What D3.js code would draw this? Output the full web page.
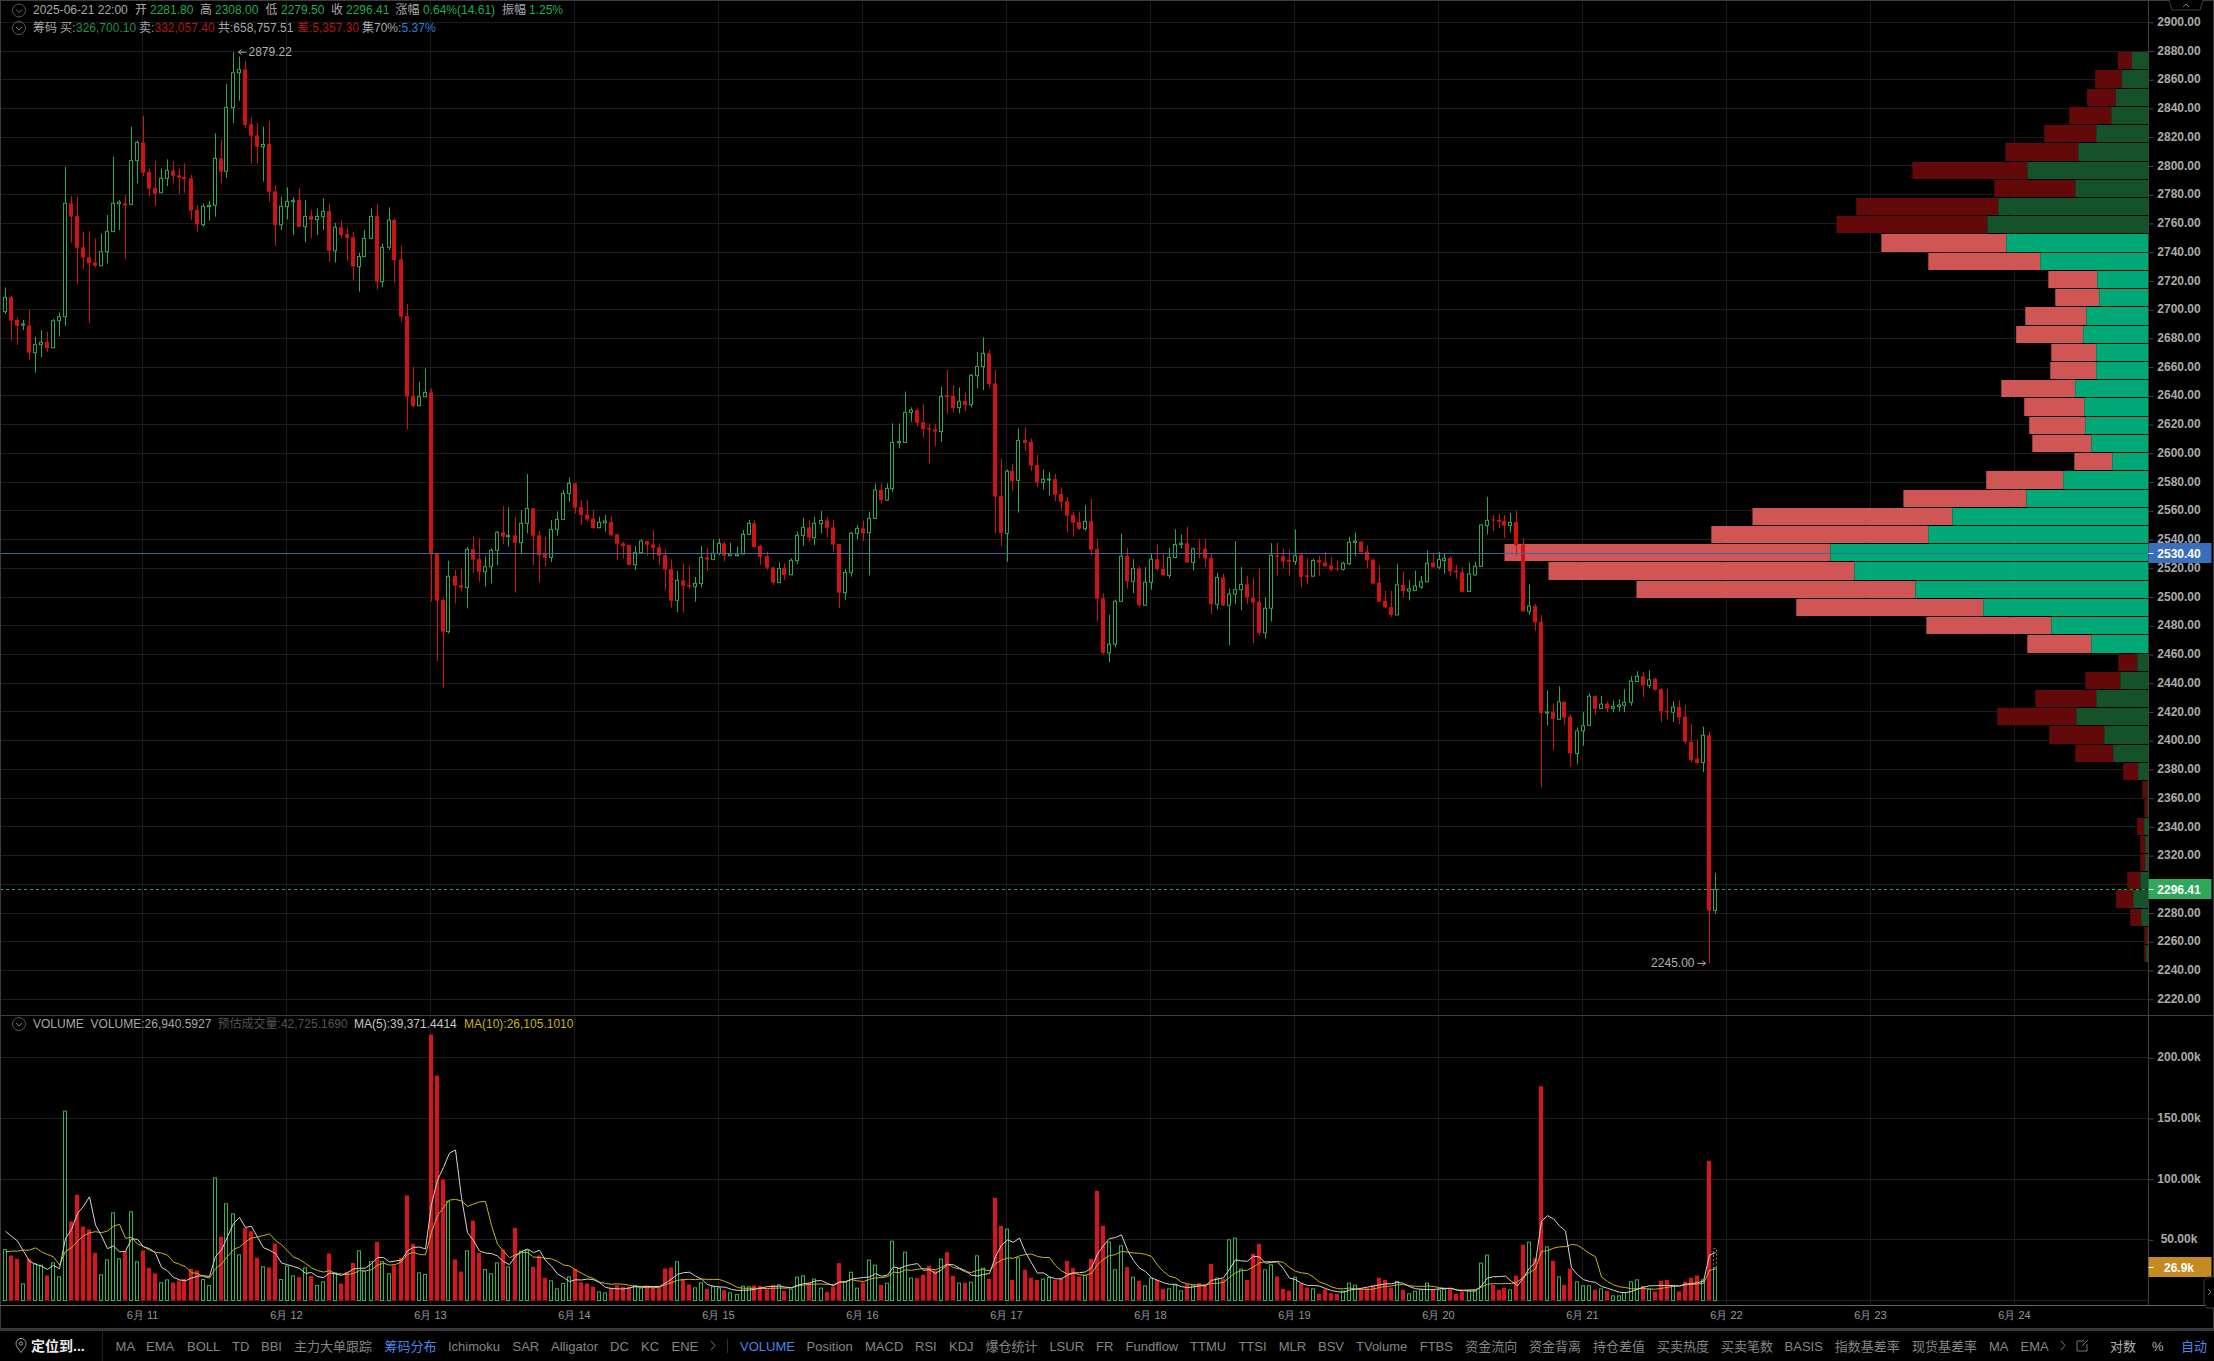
<!DOCTYPE html>
<html>
  <head>
  <meta charset="utf-8">
  <title>K线 筹码分布</title>
  </head>
  <body>
  <style>
    body, html {
      margin: 0;
      background: #000;
      overflow: hidden;
    }
    svg {
      display: block;
      font-family: "Liberation Sans", "Noto Sans CJK SC", sans-serif;
    }
  </style>

  <svg id="svg" width="2214" height="1361"></svg>

  <script src="https://cdn.jsdelivr.net/npm/d3@7"></script>
  <script>
    // hourly candles, 2025-06-10 01:00 to 2025-06-21 22:00
    const opens = [
      2698.6,2708.6,2692.8,2689.3,2689.0,2670.0,2675.6,2677.5,2673.5,2692.3,
      2695.1,2774.0,2765.2,2743.4,2736.4,2732.9,2730.6,2740.3,2754.3,2773.7,
      2774.0,2773.3,2803.7,2816.4,2795.8,2784.7,2781.4,2791.4,2796.9,2793.5,
      2792.3,2791.4,2769.3,2759.1,2771.7,2772.6,2805.3,2796.3,2840.6,2864.9,
      2867.2,2829.0,2821.3,2813.4,2815.3,2782.3,2759.1,2771.7,2775.1,2776.3,
      2757.7,2765.2,2762.6,2764.7,2768.6,2741.0,2757.3,2752.6,2750.3,2729.9,
      2736.9,2749.6,2765.2,2719.5,2743.4,2762.4,2735.0,2695.6,2639.9,2633.2,
      2639.4,2642.4,2529.9,2497.9,2475.9,2514.6,2508.1,2506.7,2533.2,2526.4,
      2517.6,2521.1,2532.5,2545.0,2542.0,2542.9,2537.8,2551.3,2561.7,2542.9,
      2529.9,2527.6,2547.1,2554.0,2572.1,2579.1,2562.4,2557.5,2554.7,2548.2,
      2551.7,2552.2,2543.6,2537.3,2536.2,2522.5,2530.8,2539.0,2536.6,2534.6,
      2529.2,2519.5,2497.7,2511.6,2508.3,2507.2,2509.3,2527.6,2526.0,2530.4,
      2537.3,2528.8,2528.8,2529.9,2543.6,2551.3,2535.5,2528.5,2520.6,2510.0,
      2520.2,2515.5,2525.3,2542.9,2548.5,2541.3,2551.0,2553.3,2548.5,2536.9,
      2503.0,2517.2,2544.3,2547.8,2544.8,2554.7,2574.5,2567.5,2575.4,2607.4,
      2607.6,2628.5,2630.1,2621.6,2617.6,2616.7,2615.1,2640.6,2639.9,2631.8,
      2636.4,2633.9,2654.0,2660.3,2669.6,2648.7,2570.3,2544.3,2587.7,2581.2,
      2609.3,2607.9,2591.9,2579.8,2581.7,2582.1,2571.7,2566.6,2557.1,2552.2,
      2547.5,2552.7,2533.4,2499.1,2461.1,2467.1,2497.0,2528.4,2510.9,2519.9,
      2494.3,2510.3,2526.3,2519.6,2515.1,2527.5,2536.5,2537.4,2524.1,2533.8,
      2533.5,2527.2,2494.9,2513.6,2494.3,2502.1,2505.1,2508.8,2499.7,2496.7,
      2475.0,2492.2,2529.0,2528.4,2525.7,2524.8,2529.3,2515.1,2514.5,2525.7,
      2524.1,2522.0,2519.9,2519.3,2523.2,2538.0,2538.6,2531.7,2526.0,2510.0,
      2497.3,2493.1,2487.6,2508.5,2504.2,2504.5,2507.0,2510.6,2523.9,2520.8,
      2525.4,2527.2,2518.4,2517.2,2503.9,2515.4,2521.4,2549.8,2554.0,2553.7,
      2553.1,2549.8,2552.2,2536.5,2490.0,2493.7,2482.8,2419.2,2419.8,2414.9,
      2427.0,2416.7,2391.1,2406.8,2410.7,2431.0,2422.5,2425.8,2422.5,2423.7,
      2424.6,2426.7,2441.2,2444.8,2438.5,2443.0,2435.8,2420.7,2419.8,2423.4,
      2416.7,2399.2,2387.5,2384.8,2403.8,2281.8
    ]
    const highs = [
      2715.5,2709.5,2694.6,2692.8,2699.7,2681.2,2685.8,2684.7,2693.5,2698.1,
      2799.5,2779.1,2778.6,2754.3,2754.7,2749.6,2753.1,2765.9,2806.5,2776.3,
      2779.8,2827.3,2817.6,2835.0,2798.3,2803.4,2798.3,2804.6,2803.0,2798.3,
      2801.8,2793.7,2772.8,2774.0,2775.8,2822.7,2818.5,2857.0,2879.22,2876.1,
      2873.0,2833.8,2830.1,2827.3,2831.5,2786.7,2778.6,2785.1,2778.2,2784.9,
      2776.3,2769.3,2770.5,2777.5,2774.0,2760.5,2762.4,2757.7,2754.3,2739.6,
      2755.4,2770.5,2773.5,2746.1,2771.2,2763.5,2744.3,2703.9,2660.3,2649.9,
      2659.1,2645.2,2530.4,2499.0,2525.3,2518.8,2519.9,2535.0,2542.4,2540.8,
      2528.1,2533.9,2545.9,2563.3,2562.4,2555.4,2560.5,2585.6,2561.7,2545.9,
      2542.0,2553.6,2559.6,2574.5,2583.3,2579.1,2567.5,2567.5,2560.5,2555.9,
      2557.1,2556.6,2543.8,2538.5,2536.2,2535.5,2540.1,2539.2,2546.6,2537.3,
      2533.2,2526.2,2518.3,2523.4,2521.8,2514.1,2535.5,2533.9,2540.1,2540.8,
      2538.5,2537.8,2535.0,2546.6,2553.6,2553.6,2536.4,2531.5,2521.1,2524.1,
      2523.4,2526.9,2545.5,2555.2,2553.6,2555.9,2559.8,2555.4,2553.6,2536.9,
      2519.5,2545.5,2550.1,2553.1,2559.4,2579.1,2579.1,2579.1,2620.9,2620.9,
      2643.0,2632.0,2631.3,2634.3,2620.9,2620.4,2646.4,2658.0,2647.5,2645.9,
      2642.4,2655.2,2670.7,2680.7,2671.9,2658.0,2596.5,2588.8,2592.6,2617.4,
      2618.5,2610.4,2598.8,2588.8,2587.2,2585.6,2576.3,2569.4,2559.4,2559.4,
      2564.0,2568.2,2540.8,2502.7,2487.6,2498.2,2544.1,2534.4,2526.3,2521.4,
      2520.8,2529.9,2536.5,2529.9,2534.4,2547.1,2543.5,2548.9,2534.4,2540.4,
      2540.4,2529.9,2516.9,2516.3,2505.8,2538.9,2520.8,2514.8,2513.3,2519.9,
      2499.7,2537.4,2538.0,2533.8,2532.9,2547.1,2529.9,2526.9,2526.9,2528.4,
      2531.4,2527.8,2525.4,2524.5,2541.9,2545.0,2538.9,2535.9,2526.9,2522.3,
      2504.2,2504.2,2523.2,2517.8,2511.8,2518.4,2514.8,2532.3,2530.8,2531.4,
      2530.5,2528.4,2522.3,2520.8,2523.9,2524.5,2551.0,2569.7,2557.0,2557.9,
      2557.0,2558.5,2560.1,2541.0,2508.8,2495.2,2487.6,2434.8,2425.8,2437.9,
      2427.3,2418.3,2409.2,2419.8,2432.8,2431.8,2431.0,2427.3,2427.9,2428.8,
      2435.8,2444.8,2448.4,2447.8,2449.0,2443.9,2436.4,2435.8,2427.3,2428.2,
      2424.9,2411.6,2400.8,2409.8,2406.2,2308.0
    ]
    const lows = [
      2696.9,2678.4,2675.4,2685.8,2665.0,2656.1,2666.8,2670.5,2673.1,2681.2,
      2688.6,2746.6,2717.8,2728.0,2690.5,2729.4,2730.6,2732.2,2754.3,2755.4,
      2735.5,2772.8,2787.9,2793.0,2778.6,2772.1,2781.0,2786.0,2787.9,2780.5,
      2781.4,2762.4,2754.3,2757.7,2761.9,2764.7,2787.9,2791.8,2829.7,2845.4,
      2826.2,2801.8,2801.8,2789.1,2775.1,2744.3,2755.4,2762.8,2751.9,2757.7,
      2746.8,2749.6,2751.9,2755.4,2733.4,2732.7,2749.6,2734.1,2720.6,2712.5,
      2736.9,2748.9,2714.1,2715.5,2741.5,2718.8,2691.6,2616.7,2632.0,2632.9,
      2639.0,2496.7,2455.4,2437.1,2474.7,2495.6,2503.7,2492.1,2516.5,2510.7,
      2507.2,2509.5,2522.3,2536.9,2535.0,2503.0,2530.4,2544.3,2522.3,2510.2,
      2521.1,2524.3,2542.7,2553.6,2566.3,2558.2,2550.1,2552.4,2547.1,2547.8,
      2545.5,2542.4,2525.7,2526.9,2522.3,2518.8,2530.4,2528.8,2526.2,2522.3,
      2504.9,2492.6,2489.5,2489.1,2505.6,2496.7,2506.5,2518.1,2525.7,2529.2,
      2524.8,2528.5,2528.1,2529.9,2543.1,2533.9,2522.3,2518.8,2508.3,2509.7,
      2511.8,2515.3,2523.0,2535.7,2538.5,2536.2,2544.3,2541.5,2531.5,2492.3,
      2497.9,2514.1,2540.1,2539.0,2515.1,2554.3,2564.7,2566.8,2573.3,2603.5,
      2607.4,2622.0,2618.5,2610.9,2593.0,2605.1,2608.1,2627.4,2628.3,2627.8,
      2629.4,2632.0,2645.2,2644.0,2645.2,2544.3,2535.5,2524.6,2574.0,2558.7,
      2601.6,2587.7,2576.3,2574.9,2570.5,2566.8,2560.5,2544.8,2542.0,2546.6,
      2546.2,2528.8,2482.8,2459.9,2454.5,2465.0,2496.7,2505.8,2502.7,2493.1,
      2494.3,2505.1,2518.4,2514.8,2513.0,2526.9,2533.8,2523.9,2518.4,2526.9,
      2520.8,2488.2,2491.3,2493.7,2466.5,2495.2,2490.7,2495.2,2468.0,2473.2,
      2471.0,2483.1,2514.8,2520.2,2514.8,2522.3,2506.7,2508.8,2514.2,2514.8,
      2520.8,2517.8,2517.8,2518.4,2522.3,2528.4,2529.9,2520.2,2508.8,2496.7,
      2492.2,2486.1,2487.6,2499.7,2497.6,2504.2,2505.7,2510.3,2520.2,2519.3,
      2516.3,2514.8,2512.7,2503.6,2503.3,2514.8,2520.8,2543.5,2545.9,2548.0,
      2541.0,2545.0,2529.0,2490.0,2487.6,2476.5,2367.6,2410.7,2393.5,2414.6,
      2410.7,2382.0,2383.6,2396.5,2410.7,2418.3,2422.2,2419.8,2419.8,2420.4,
      2419.8,2424.3,2440.9,2430.3,2436.4,2434.8,2413.1,2414.6,2413.1,2411.6,
      2397.7,2385.1,2383.6,2378.1,2245.0,2279.5
    ]
    const closes = [
      2708.6,2692.3,2688.8,2690.0,2670.0,2675.6,2677.2,2673.3,2692.3,2695.1,
      2774.0,2764.7,2743.1,2736.2,2732.2,2730.6,2740.3,2754.3,2774.0,2774.9,
      2772.4,2803.7,2816.4,2795.3,2784.2,2780.7,2791.4,2796.9,2793.2,2791.8,
      2790.9,2768.9,2759.4,2771.9,2772.6,2805.3,2796.0,2840.8,2864.9,2867.2,
      2828.5,2821.1,2813.4,2815.0,2782.1,2758.9,2771.9,2775.4,2776.1,2757.7,
      2764.9,2762.4,2764.9,2768.4,2741.0,2757.3,2751.9,2749.9,2729.9,2736.9,
      2749.6,2764.9,2719.5,2743.4,2762.4,2734.5,2695.1,2639.4,2632.9,2639.4,
      2642.4,2529.7,2497.4,2475.9,2514.4,2507.9,2506.5,2533.2,2526.0,2517.6,
      2521.1,2532.5,2545.0,2542.0,2542.9,2537.8,2551.3,2561.7,2542.7,2529.2,
      2527.4,2547.1,2554.0,2572.1,2579.1,2562.2,2557.1,2554.0,2548.0,2552.0,
      2552.9,2543.1,2537.1,2535.5,2522.3,2531.1,2539.0,2536.4,2534.3,2528.8,
      2519.0,2497.4,2511.6,2507.9,2507.2,2509.5,2527.6,2526.0,2530.4,2537.3,
      2528.8,2529.9,2529.9,2543.6,2551.3,2534.8,2528.1,2520.4,2510.0,2519.9,
      2515.3,2525.5,2542.9,2548.5,2541.3,2551.3,2553.3,2548.2,2536.4,2503.0,
      2517.2,2544.3,2547.8,2544.5,2554.7,2574.5,2567.5,2575.6,2607.6,2608.3,
      2628.5,2630.1,2621.3,2616.9,2616.4,2615.1,2639.6,2639.2,2631.5,2636.2,
      2633.6,2654.3,2660.5,2669.6,2648.2,2569.8,2544.3,2587.5,2580.7,2609.0,
      2607.2,2591.4,2579.6,2581.9,2582.1,2571.2,2566.3,2556.6,2551.7,2547.5,
      2552.7,2532.9,2498.8,2461.1,2467.1,2497.0,2528.4,2510.9,2519.9,2494.3,
      2510.3,2526.3,2519.3,2515.1,2527.5,2536.5,2537.4,2524.1,2533.5,2533.2,
      2526.9,2494.9,2513.6,2494.3,2502.1,2505.1,2508.8,2499.7,2496.1,2475.0,
      2492.2,2529.0,2528.1,2524.8,2524.5,2528.7,2513.9,2513.9,2525.4,2523.9,
      2521.4,2519.0,2519.3,2523.5,2538.0,2538.9,2531.4,2525.4,2509.4,2496.7,
      2492.8,2487.6,2508.5,2504.2,2505.7,2507.6,2510.6,2523.5,2520.8,2526.0,
      2526.9,2517.8,2517.2,2503.6,2516.0,2521.4,2550.1,2553.4,2553.4,2552.5,
      2549.8,2551.9,2535.9,2490.0,2493.7,2482.5,2419.2,2420.0,2415.2,2427.0,
      2416.1,2391.1,2406.8,2410.4,2431.0,2422.2,2425.5,2422.2,2423.7,2424.9,
      2426.7,2441.5,2444.8,2438.5,2442.4,2435.5,2420.4,2419.8,2423.4,2416.1,
      2399.2,2386.6,2384.5,2403.8,2281.6,2296.41
    ]

    // volume per candle, in thousands
    const volumes = [
      42.0,37.1,34.3,13.7,34.3,30.2,29.1,20.6,31.0,19.5,
      156.0,65.1,87.1,61.0,58.5,39.3,21.2,33.5,72.2,34.3,
      40.7,73.1,31.9,41.2,26.9,22.3,14.6,17.0,14.8,16.5,
      17.9,26.1,24.7,17.3,12.4,101.1,52.5,79.7,71.4,37.6,
      59.9,57.1,35.2,27.7,27.2,47.0,17.3,28.3,20.3,19.2,
      26.9,20.1,12.4,15.4,38.7,22.8,14.0,23.6,31.0,40.9,
      24.2,31.9,48.3,32.1,22.0,28.8,35.2,86.5,46.7,22.8,
      21.4,219.2,185.4,99.7,81.9,33.8,23.9,40.9,65.9,39.3,
      25.5,22.0,31.0,42.0,27.7,59.9,40.7,41.5,27.7,37.1,
      18.7,16.2,9.6,14.0,19.5,26.1,15.1,14.0,11.5,7.1,
      6.3,10.4,12.6,11.3,11.3,12.4,10.2,12.4,11.3,11.3,
      26.4,27.2,31.9,17.9,13.2,10.4,14.6,9.6,11.3,10.4,
      8.5,6.3,4.9,11.8,11.3,12.4,12.1,9.3,12.9,12.9,
      8.0,9.3,19.2,20.3,14.8,17.6,10.2,7.1,11.5,30.8,
      15.7,23.3,10.2,14.8,33.2,29.1,12.9,14.3,48.9,26.6,
      39.8,18.4,18.4,21.2,28.6,24.7,34.1,39.8,20.3,14.3,
      14.6,15.1,36.8,26.6,17.9,84.6,61.5,58.8,17.0,35.2,
      25.3,18.7,17.0,17.6,19.0,17.0,18.4,32.7,26.6,19.8,
      20.6,34.3,90.4,61.5,48.1,25.3,45.1,27.5,19.2,16.2,
      12.1,18.4,17.0,9.6,9.6,12.6,8.0,13.5,12.1,14.3,
      12.9,30.2,18.4,17.6,50.0,51.4,25.8,17.0,38.5,46.7,
      25.3,29.4,19.8,9.6,8.0,19.2,14.3,10.7,9.6,5.5,
      9.3,6.0,5.5,7.7,14.3,12.6,10.2,10.2,12.6,18.7,
      17.0,10.7,15.7,8.8,5.5,7.7,8.8,14.3,8.8,8.8,
      9.3,9.3,5.5,7.4,8.0,8.8,30.8,37.4,12.9,8.8,
      10.4,8.8,20.3,45.9,48.1,34.9,176.6,44.2,32.7,19.5,
      12.9,26.1,15.4,12.1,12.1,8.8,9.6,8.0,3.8,3.8,
      6.6,15.4,17.0,12.1,9.3,7.4,16.2,17.0,11.5,7.4,
      15.4,18.7,20.6,17.0,115.1,26.94
    ]
    const ma5 = [
      57.0,53.0,49.0,40.7,32.3,29.9,28.3,25.6,29.0,26.1,
      51.2,58.4,71.7,77.7,85.5,62.2,53.4,42.7,44.9,40.1,
      40.4,50.8,50.4,44.2,42.8,39.1,27.4,24.4,19.1,17.0,
      16.2,18.5,20.0,20.5,19.7,36.3,41.6,52.6,63.4,68.5,
      60.2,61.1,52.2,43.5,41.4,38.8,30.9,29.5,28.0,26.4,
      22.4,23.0,19.8,18.8,22.7,21.9,20.7,22.9,26.0,26.5,
      26.7,30.3,35.3,35.5,31.7,32.6,33.3,40.9,43.8,44.0,
      42.5,79.3,99.1,109.7,121.5,124.0,84.9,56.0,49.3,40.8,
      39.1,38.7,36.7,32.0,29.6,36.5,40.3,42.4,39.5,41.4,
      33.1,28.2,21.9,19.1,15.6,17.1,16.9,17.7,17.2,14.8,
      10.8,9.9,9.6,9.5,10.4,11.6,11.6,11.5,11.5,11.5,
      14.3,17.7,21.6,22.9,23.3,20.1,17.6,13.1,11.8,11.3,
      10.9,9.2,8.3,8.4,8.6,9.3,10.5,11.4,11.6,11.9,
      11.0,10.5,12.5,13.9,14.3,16.2,16.4,14.0,12.2,15.4,
      15.1,17.7,18.3,19.0,19.4,22.1,20.0,20.9,27.7,26.4,
      28.5,29.6,30.4,24.9,25.3,22.3,25.4,29.7,29.5,26.6,
      24.6,20.8,20.2,21.5,22.2,36.2,45.5,49.9,48.0,51.4,
      39.6,31.0,22.6,22.8,19.5,17.9,17.8,20.9,22.7,22.9,
      23.6,26.8,38.3,45.3,51.0,51.9,54.1,41.5,33.0,26.7,
      24.0,18.7,16.6,14.7,13.3,13.4,11.4,10.7,11.2,12.1,
      12.2,16.6,17.6,18.7,25.8,33.5,32.6,32.4,36.5,35.9,
      30.7,31.4,31.9,26.2,18.4,17.2,14.2,12.4,12.4,11.9,
      9.9,8.2,7.2,6.8,8.6,9.2,10.1,11.0,12.0,12.9,
      13.7,13.8,14.9,14.2,11.5,9.7,9.3,9.0,9.0,9.7,
      10.0,10.1,8.3,8.1,7.9,7.8,12.1,18.5,19.6,19.7,
      20.1,15.7,12.2,18.8,26.7,31.6,65.2,69.9,67.3,61.6,
      57.2,27.1,21.3,17.2,15.7,14.9,11.6,10.1,8.5,6.8,
      6.4,7.5,9.3,11.0,12.1,12.2,12.4,12.4,12.3,11.9,
      13.5,14.0,14.7,15.8,37.4,39.37
    ]
    const ma10 = [
      40.1,40.7,40.7,41.5,41.5,43.4,40.1,37.9,36.0,29.2,
      40.6,43.4,48.7,53.4,55.8,56.7,55.9,57.2,61.3,62.8,
      51.3,52.1,46.6,44.6,41.5,39.8,39.1,37.4,31.7,29.9,
      27.7,23.0,22.2,19.8,18.4,26.3,30.1,36.3,42.0,44.1,
      48.3,51.4,52.4,53.5,55.0,49.5,46.0,40.9,35.8,33.9,
      30.6,27.0,24.7,23.4,24.6,22.2,21.9,21.4,22.4,24.6,
      24.3,25.5,29.1,30.8,29.1,29.7,31.8,38.1,39.7,37.9,
      37.6,56.3,70.0,76.8,82.8,83.3,82.1,77.6,79.5,81.2,
      81.6,61.8,46.4,40.7,35.2,37.8,39.5,39.6,35.8,35.5,
      34.8,34.3,32.2,29.3,28.5,25.1,22.6,19.8,18.2,15.2,
      14.0,13.4,13.7,13.4,12.6,11.2,10.8,10.6,10.5,11.0,
      13.0,14.7,16.6,17.2,17.4,17.2,17.7,17.4,17.4,17.3,
      15.5,13.4,10.7,10.1,10.0,10.1,9.9,9.9,10.0,10.3,
      10.2,10.5,12.0,12.8,13.1,13.6,13.5,13.3,13.1,14.9,
      15.7,17.1,16.2,15.6,17.4,18.6,18.9,19.6,23.4,22.9,
      25.3,24.8,25.7,26.3,25.9,25.4,27.5,30.1,27.2,26.0,
      23.5,23.1,25.0,25.5,24.4,30.4,33.2,35.1,34.8,36.8,
      37.9,38.3,36.3,35.4,35.5,28.8,24.4,21.8,22.8,21.2,
      20.8,22.3,29.6,34.0,37.0,37.8,40.5,39.9,39.2,38.9,
      38.0,36.4,29.1,23.9,20.0,18.7,15.1,13.7,13.0,12.7,
      12.8,14.0,14.2,15.0,19.0,22.9,24.6,25.0,27.6,30.9,
      32.1,32.0,32.2,31.4,27.2,24.0,22.8,22.2,19.3,15.2,
      13.6,11.2,9.8,9.6,10.3,9.6,9.2,9.1,9.4,10.8,
      11.5,12.0,13.0,13.1,12.2,11.7,11.6,12.0,11.6,10.6,
      9.9,9.7,8.7,8.6,8.8,8.9,11.1,13.4,13.9,13.8,
      14.0,13.9,15.4,19.2,23.2,25.9,40.5,41.1,43.1,44.2,
      44.4,46.2,45.6,42.3,38.7,36.1,19.4,15.7,12.9,11.3,
      10.7,9.6,9.7,9.8,9.5,9.3,10.0,10.9,11.7,12.0,
      12.9,13.2,13.6,14.1,24.7,26.1
    ]
    const estimatedVolume = 42.725

    // chip distribution, 50 price rows from the high to the low, in thousands
    const chipHigh = 2879.22
    const chipLow = 2245
    const chipCoreHigh = 2753
    const chipCoreLow = 2460
    const chipBuy = [
      1.47,2.35,2.88,3.28,4.60,6.19,10.67,6.45,13.23,14.19,
      12.52,9.53,4.51,4.34,5.48,5.75,4.60,4.60,6.45,5.66,
      5.57,5.04,3.19,7.51,10.76,17.27,19.39,28.01,25.90,20.53,
      14.55,8.56,5.04,0.99,2.49,4.60,6.36,3.90,3.11,0.91,
      0.11,0.11,0.38,0.29,0.29,0.73,1.35,0.64,0.11,0.20
    ]
    const chipSell = [
      1.23,2.35,2.53,3.70,4.58,6.42,10.12,7.13,12.50,13.29,
      11.00,9.86,4.31,3.87,5.37,5.90,3.96,4.05,6.51,5.28,
      4.93,5.19,3.34,6.78,10.82,17.60,19.10,28.69,26.93,24.55,
      16.46,11.00,5.63,1.67,3.08,5.37,6.95,4.84,3.34,1.32,
      0.44,0.26,0.62,0.44,0.44,1.14,1.50,0.97,0.26,0.18
    ]

    const priceTicks = d3.range(2220, 2901, 20)
    // the last price tag sits on this tick, so it gets no label of its own
    const hiddenPriceTicks = [2300]
    const volumeTicks = [50, 100, 150, 200]
    const dateTicks = d3.range(11, 25).map(d => new Date(Date.UTC(2025, 5, d)))
    const costPrice = 2530.40
    const lastPrice = 2296.41

    const toolbarLeft = [
      ['MA', 115.6], ['EMA', 146], ['BOLL', 187], ['TD', 232], ['BBI', 261], ['主力大单跟踪', 294],
      ['筹码分布', 384.6, '#4a86e8'], ['Ichimoku', 448], ['SAR', 512.5], ['Alligator', 551], ['DC', 610],
      ['KC', 641], ['ENE', 671.5], ['VOLUME', 740, '#4a86e8'], ['Position', 806.5], ['MACD', 865],
      ['RSI', 915], ['KDJ', 949], ['爆仓统计', 985.4], ['LSUR', 1049.4], ['FR', 1096], ['Fundflow', 1125.5],
      ['TTMU', 1190], ['TTSI', 1238.4], ['MLR', 1278.7], ['BSV', 1318], ['TVolume', 1356], ['FTBS', 1419.7],
      ['资金流向', 1465.3], ['资金背离', 1529], ['持仓差值', 1593], ['买卖热度', 1657], ['买卖笔数', 1721],
      ['BASIS', 1784.6], ['指数基差率', 1834.7], ['现货基差率', 1912], ['MA', 1989], ['EMA', 2020.5],
      ['对数', 2110, '#b0b0b0'], ['%', 2152, '#b0b0b0'], ['自动', 2181, '#4a86e8']
    ]

    const green = '#2aa852'
    const red = '#cf1313'
    const gridColor = '#1c1c1c'
    const borderColor = '#3c3c3f'
    const axisX = 2148.5

    const svg = d3.select('#svg')

    const times = opens.map((d, i) => new Date(Date.UTC(2025, 5, 10, 1 + i)))
    const xScale = d3.scaleUtc()
      .domain([times[0], times[times.length - 1]])
      .range([4.5, 1714.5])
    const yScale = d3.scaleLinear()
      .domain([2900, 2220])
      .range([22.3, 999.3])
    const volScale = d3.scaleLinear()
      .domain([0, 200])
      .range([1300.5, 1057.8])
    const chipScale = d3.scaleLinear()
      .domain([0, 56.7])
      .range([axisX, axisX - 644])

    const crisp = v => Math.round(v) + 0.5
    const crispY = v => Math.floor(v) + 0.5

    // grid
    const grid = svg.append('g').attr('stroke', gridColor).attr('stroke-width', 1)
    grid.selectAll('.h').data(priceTicks).join('line')
      .attr('x1', 0).attr('x2', axisX)
      .attr('y1', d => crispY(yScale(d))).attr('y2', d => crispY(yScale(d)))
    grid.selectAll('.v').data([0, ...volumeTicks]).join('line')
      .attr('x1', 0).attr('x2', axisX)
      .attr('y1', d => crispY(volScale(d))).attr('y2', d => crispY(volScale(d)))
    grid.selectAll('.d').data(dateTicks).join('line')
      .attr('x1', d => crisp(xScale(d) - 0.5)).attr('x2', d => crisp(xScale(d) - 0.5))
      .attr('y1', 0).attr('y2', 1305)

    // chip rows
    const rowStep = (chipHigh - chipLow) / chipBuy.length
    const rowTop = i => Math.round(yScale(chipHigh - rowStep * i))
    const rowMid = i => chipHigh - rowStep * (i + 0.5)
    const inCore = i => rowMid(i) <= chipCoreHigh && rowMid(i) >= chipCoreLow
    const rowHeight = i => rowTop(i + 1) - rowTop(i) - 1
    const chips = svg.append('g').attr('opacity', 0.96)
    chips.selectAll('.sell').data(chipSell).join('rect')
      .attr('x', (d, i) => chipScale(d + chipBuy[i]))
      .attr('y', (d, i) => rowTop(i))
      .attr('width', (d, i) => chipScale(chipBuy[i]) - chipScale(d + chipBuy[i]))
      .attr('height', (d, i) => rowHeight(i))
      .attr('fill', (d, i) => inCore(i) ? '#d95a59' : '#680a0a')
    chips.selectAll('.buy').data(chipBuy).join('rect')
      .attr('x', d => chipScale(d))
      .attr('y', (d, i) => rowTop(i))
      .attr('width', d => axisX - chipScale(d))
      .attr('height', (d, i) => rowHeight(i))
      .attr('fill', (d, i) => inCore(i) ? '#00b07a' : '#16562c')

    // candles
    const wickX = i => crisp(xScale(times[i]))
    const candles = svg.append('g')
    const idx = d3.range(opens.length)
    candles.selectAll('.wick').data(idx).join('line')
      .attr('x1', wickX).attr('x2', wickX)
      .attr('y1', i => yScale(highs[i])).attr('y2', i => yScale(lows[i]))
      .attr('stroke', i => closes[i] >= opens[i] ? green : red)
    candles.selectAll('.body').data(idx).join('rect')
      .attr('x', i => closes[i] >= opens[i] ? wickX(i) - 2 : wickX(i) - 2.5)
      .attr('y', i => yScale(Math.max(opens[i], closes[i])))
      .attr('width', i => closes[i] >= opens[i] ? 3 : 4)
      .attr('height', i => Math.max(1, Math.abs(yScale(opens[i]) - yScale(closes[i]))))
      .attr('fill', i => closes[i] >= opens[i] ? '#000' : red)
      .attr('stroke', i => closes[i] >= opens[i] ? green : 'none')

    // volume bars
    const bars = svg.append('g')
    bars.selectAll('rect').data(volumes).join('rect')
      .attr('x', (d, i) => closes[i] >= opens[i] ? wickX(i) - 2 : wickX(i) - 2.5)
      .attr('y', d => volScale(d))
      .attr('width', (d, i) => closes[i] >= opens[i] ? 3 : 4)
      .attr('height', d => volScale(0) - volScale(d))
      .attr('fill', (d, i) => closes[i] >= opens[i] ? 'none' : '#d9141a')
      .attr('stroke', (d, i) => closes[i] >= opens[i] ? '#2fb457' : 'none')

    // estimated volume of the open candle
    const lastI = volumes.length - 1
    bars.append('rect')
      .attr('x', wickX(lastI) - 2)
      .attr('y', volScale(estimatedVolume))
      .attr('width', 3)
      .attr('height', volScale(volumes[lastI]) - volScale(estimatedVolume))
      .attr('fill', 'none')
      .attr('stroke', '#777')
      .attr('stroke-dasharray', '2,2')

    const linegen = d3.line()
      .x((d, i) => xScale(times[i]) + 1)
      .y(d => volScale(d))
    svg.append('path').attr('d', linegen(ma10))
      .attr('fill', 'none').attr('stroke', '#c9b516').attr('stroke-width', 1)
    svg.append('path').attr('d', linegen(ma5))
      .attr('fill', 'none').attr('stroke', '#d4d4d4').attr('stroke-width', 1)

    // price lines
    svg.append('line')
      .attr('x1', 0).attr('x2', axisX)
      .attr('y1', crispY(yScale(costPrice))).attr('y2', crispY(yScale(costPrice)))
      .attr('stroke', '#3f66ad')
    svg.append('line')
      .attr('x1', 0).attr('x2', axisX)
      .attr('y1', crispY(yScale(lastPrice))).attr('y2', crispY(yScale(lastPrice)))
      .attr('stroke', '#2ea85a')
      .attr('stroke-dasharray', '3,3')

    // panes
    const frame = svg.append('g').attr('stroke', borderColor).attr('fill', 'none')
    frame.append('line').attr('x1', 0).attr('x2', 2214).attr('y1', 0.5).attr('y2', 0.5)
    frame.append('line').attr('x1', 0.5).attr('x2', 0.5).attr('y1', 0).attr('y2', 1329)
    frame.append('line').attr('x1', 0).attr('x2', 2214).attr('y1', 1015.5).attr('y2', 1015.5)
    frame.append('line').attr('x1', axisX).attr('x2', axisX).attr('y1', 0).attr('y2', 1305)
    frame.append('line').attr('x1', 2213.5).attr('x2', 2213.5).attr('y1', 0).attr('y2', 1329)
    frame.append('line').attr('x1', 0).attr('x2', 2214).attr('y1', 1305.5).attr('y2', 1305.5)
      .attr('stroke', '#66666c')
    frame.append('line').attr('x1', 0).attr('x2', 2214).attr('y1', 1329.5).attr('y2', 1329.5)
      .attr('stroke', '#37373a').attr('stroke-width', 3)

    // axes
    const styleValueAxis = g => {
      g.select('.domain').remove()
      g.selectAll('line').attr('stroke', '#45454a')
      g.selectAll('text')
        .attr('x', 30.5)
        .attr('y', -0.7)
        .attr('text-anchor', 'middle')
        .attr('fill', '#ababab')
        .attr('font-size', 12)
        .attr('font-weight', 'bold')
        .attr('font-family', null)
    }
    svg.append('g')
      .attr('transform', `translate(${axisX}, 0)`)
      .call(d3.axisRight(yScale)
        .tickValues(priceTicks.filter(d => !hiddenPriceTicks.includes(d)))
        .tickSize(5)
        .tickFormat(d => d.toFixed(2)))
      .call(styleValueAxis)
    svg.append('g')
      .attr('transform', `translate(${axisX}, 0)`)
      .call(d3.axisRight(volScale).tickValues(volumeTicks).tickSize(5).tickFormat(d => `${d.toFixed(2)}k`))
      .call(styleValueAxis)
    svg.append('g')
      .attr('transform', 'translate(-0.5, 1305)')
      .call(d3.axisBottom(xScale).tickValues(dateTicks).tickSize(0).tickPadding(6)
        .tickFormat(d => `6月 ${d.getUTCDate()}`))
      .call(g => g.select('.domain').remove())
      .call(g => g.selectAll('text')
        .attr('fill', '#969696')
        .attr('font-size', 11)
        .attr('font-family', null))

    // value tags on the axis
    function valueTag(y, text, color) {
      const top = Math.floor(y)
      const tag = svg.append('g')
      tag.append('rect').attr('x', axisX).attr('y', top - 10).attr('width', 63).attr('height', 20).attr('fill', color)
      tag.append('line').attr('x1', axisX).attr('x2', axisX + 5).attr('y1', top + 0.5).attr('y2', top + 0.5).attr('stroke', '#fff')
      tag.append('text').attr('x', axisX + 30.5).attr('y', top + 4.5).attr('text-anchor', 'middle')
        .attr('fill', '#fff').attr('font-size', 12).attr('font-weight', 'bold').text(text)
    }
    valueTag(yScale(costPrice), costPrice.toFixed(2), '#3b6dbf')
    valueTag(yScale(lastPrice), lastPrice.toFixed(2), '#2ea85a')
    valueTag(volScale(volumes[lastI]), `${volumes[lastI].toFixed(1)}k`, '#c68a22')

    function label(x, y, text, color, size = 12, weight = 'normal', anchor = 'start') {
      svg.append('text')
        .attr('x', x).attr('y', y)
        .attr('fill', color)
        .attr('font-size', size)
        .attr('font-weight', weight)
        .attr('text-anchor', anchor)
        .text(text)
    }

    function foldIcon(cx, cy) {
      svg.append('circle').attr('cx', cx).attr('cy', cy).attr('r', 6.5)
        .attr('fill', 'none').attr('stroke', '#5a5a5e')
      svg.append('path').attr('d', `M${cx - 3},${cy - 1}L${cx},${cy + 2}L${cx + 3},${cy - 1}`)
        .attr('fill', 'none').attr('stroke', '#77777b')
    }

    // header rows
    const grey = '#a8a8a8'
    const up = '#1bae55'
    foldIcon(19, 10.5)
    label(33, 14, '2025-06-21 22:00', grey)
    label(135, 14, '开', grey)
    label(150, 14, '2281.80', up)
    label(200, 14, '高', grey)
    label(215, 14, '2308.00', up)
    label(265.6, 14, '低', grey)
    label(281, 14, '2279.50', up)
    label(331, 14, '收', grey)
    label(346, 14, '2296.41', up)
    label(395.6, 14, '涨幅', grey)
    label(423, 14, '0.64%(14.61)', up)
    label(502, 14, '振幅', grey)
    label(529, 14, '1.25%', up)

    foldIcon(19, 28)
    label(33, 32, '筹码', grey)
    label(60, 32, '买:', grey)
    label(76, 32, '326,700.10', '#1e8f48')
    label(139, 32, '卖:', grey)
    label(154.5, 32, '332,057.40', '#b31616')
    label(218, 32, '共:658,757.51', grey)
    label(297, 32, '差:5,357.30', '#b31616')
    label(362, 32, '集70%:', grey)
    label(401.6, 32, '5.37%', '#2a7fdb')

    // high and low marks
    const highI = highs.indexOf(d3.max(highs))
    const lowI = lows.indexOf(d3.min(lows))
    function markArrow(x, y, dir) {
      svg.append('path')
        .attr('d', `M${x},${y}h${dir * 8}m${-dir * 3},-2.5l${dir * 3},2.5l${-dir * 3},2.5`)
        .attr('fill', 'none').attr('stroke', '#b0b0b0')
    }
    label(wickX(highI) + 15, yScale(highs[highI]) + 3.5, highs[highI].toFixed(2), '#b0b0b0')
    markArrow(wickX(highI) + 13, yScale(highs[highI]), -1)
    label(wickX(lowI) - 15, yScale(lows[lowI]) + 3.5, lows[lowI].toFixed(2), '#b0b0b0', 12, 'normal', 'end')
    markArrow(wickX(lowI) - 12, yScale(lows[lowI]), 1)

    // volume header
    foldIcon(19, 1024)
    label(33, 1028, 'VOLUME', grey)
    label(90.6, 1028, 'VOLUME:26,940.5927', grey)
    label(217.6, 1028, '预估成交量:42,725.1690', '#555')
    label(354, 1028, 'MA(5):39,371.4414', '#c8c8c8')
    label(464, 1028, 'MA(10):26,105.1010', '#c8b515')

    // toolbar
    toolbarLeft.forEach(d => label(d[1], 1350.5, d[0], d[2] || '#858585', 13))
    label(31, 1351, '定位到...', '#ececec', 14, 'bold')
    svg.append('path')
      .attr('d', 'M21,1352.5C17,1347.5 16,1345.5 16,1343.5A5,5 0 0 1 26,1343.5C26,1345.5 25,1347.5 21,1352.5Z')
      .attr('fill', 'none').attr('stroke', '#a0a0a0')
    svg.append('circle').attr('cx', 21).attr('cy', 1343.5).attr('r', 1.6)
      .attr('fill', 'none').attr('stroke', '#a0a0a0')
    svg.append('line').attr('x1', 102.5).attr('x2', 102.5).attr('y1', 1331).attr('y2', 1361).attr('stroke', '#222')
    svg.append('line').attr('x1', 727.5).attr('x2', 727.5).attr('y1', 1339).attr('y2', 1353).attr('stroke', '#333')
    svg.append('path').attr('d', 'M711,1341L715,1345.5L711,1350').attr('fill', 'none').attr('stroke', '#777')
    svg.append('path').attr('d', 'M2061,1341L2065,1345.5L2061,1350').attr('fill', 'none').attr('stroke', '#777')
    svg.append('path').attr('d', 'M2084,1341H2077V1351H2087V1344M2082,1346L2088,1340').attr('fill', 'none').attr('stroke', '#777')

    // collapse handles
    svg.append('path').attr('d', 'M2169,0L2172,10H2200L2203,0').attr('fill', '#000').attr('stroke', '#3c3c3f')
    svg.append('path').attr('d', 'M2183,7L2186,4L2189,7').attr('fill', 'none').attr('stroke', '#777')
    svg.append('path').attr('d', 'M2214,1277H2207L2204,1281V1304L2207,1308H2214').attr('fill', '#000').attr('stroke', '#3c3c3f')
    svg.append('path').attr('d', 'M2208,1289L2211,1292L2208,1295').attr('fill', 'none').attr('stroke', '#777')
  </script>
  </body>
</html>
